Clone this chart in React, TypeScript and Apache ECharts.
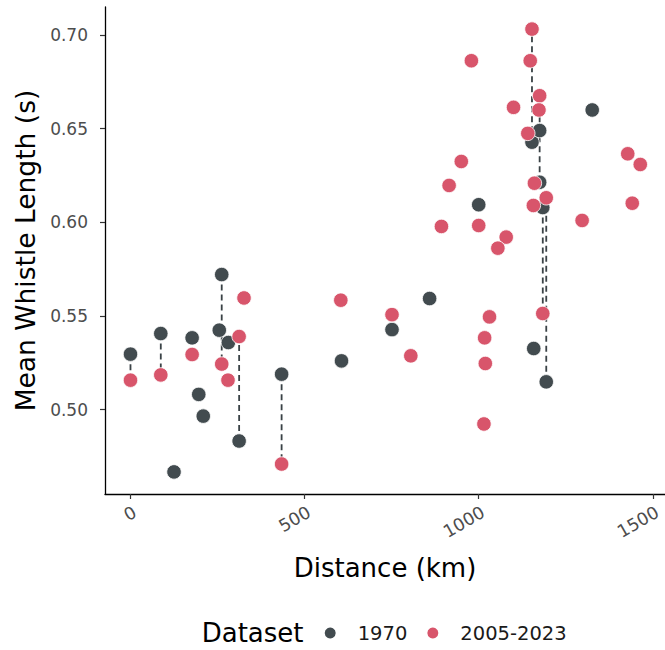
import React, { useEffect, useRef } from "react";
import * as echarts from "echarts";

// Sites sampled in both periods (joined by a dashed line)
const pairDistance = [0, 87, 177, 262, 312, 434, 751, 1153, 1175, 1184, 1194];
const pair1970 = [0.5296, 0.5406, 0.5383, 0.5721, 0.4832, 0.5189, 0.5427, 0.6428, 0.6214, 0.6079, 0.5148];
const pair2005 = [0.5157, 0.5185, 0.5294, 0.5243, 0.539, 0.4709, 0.5507, 0.7032, 0.6676, 0.5513, 0.6131];

// Other 1970 sites
const other1970Distance = [255, 281, 196, 209, 125, 606, 859, 1000, 1326, 1175, 1158];
const other1970Length = [0.5424, 0.5358, 0.5081, 0.4965, 0.4667, 0.526, 0.5593, 0.6094, 0.66, 0.649, 0.5326];

// Other 2005-2023 sites
const other2005Distance = [326, 280, 604, 805, 950, 915, 893, 1000, 1079, 1055, 1031, 1017, 1019, 1015, 979, 1148, 1100, 1173, 1141, 1428, 1464, 1160, 1157, 1441, 1297];
const other2005Length = [0.5596, 0.5157, 0.5584, 0.5287, 0.6325, 0.6197, 0.5978, 0.5983, 0.5921, 0.5862, 0.5495, 0.5383, 0.5246, 0.4923, 0.6863, 0.6863, 0.6614, 0.66, 0.6475, 0.6366, 0.6309, 0.6209, 0.609, 0.6102, 0.601];

const xTicks = [0, 500, 1000, 1500];
const yTicks = [0.5, 0.55, 0.6, 0.65, 0.7];
const datasets = ["1970", "2005-2023"];

export default function App() {
  const ref = useRef<HTMLDivElement>(null);
  useEffect(() => {
    const chart = echarts.init(ref.current!, null, { renderer: "svg" });
    const font = "DejaVu Sans";
    const dark = "#424b4f";
    const red = "#d8556b";

    const lineSeries = pairDistance.map((d, i) => ({
      type: "line",
      silent: true,
      symbol: "none",
      z: 1,
      data: [
        [d, pair1970[i]],
        [d, pair2005[i]],
      ],
      lineStyle: { color: "#3a4246", width: 1.8, type: [6, 4] },
    }));

    const data1970 = [
      ...pairDistance.map((d, i) => [d, pair1970[i]]),
      ...other1970Distance.map((d, i) => [d, other1970Length[i]]),
    ];
    const data2005 = [
      ...pairDistance.map((d, i) => [d, pair2005[i]]),
      ...other2005Distance.map((d, i) => [d, other2005Length[i]]),
    ];

    chart.setOption({
      animation: false,
      backgroundColor: "#ffffff",
      textStyle: { fontFamily: font },
      grid: { left: 105, right: 0, top: 7, bottom: 156, containLabel: false },
      xAxis: {
        type: "value",
        min: -73.2,
        max: 1535,
        name: "Distance (km)",
        nameLocation: "middle",
        nameGap: 61,
        nameTextStyle: { fontSize: 26, color: "#000", fontFamily: font },
        axisLine: { show: true, onZero: false, lineStyle: { color: "#000", width: 1.3 } },
        axisTick: { show: true, length: 5, customValues: xTicks, lineStyle: { color: "#333", width: 1.2 } },
        axisLabel: {
          customValues: xTicks,
          rotate: 30,
          align: "right",
          verticalAlign: "top",
          margin: 9,
          fontSize: 17.5,
          color: "#4d4d4d",
          fontFamily: font,
          formatter: (v: number) => String(v),
        },
        splitLine: { show: false },
      },
      yAxis: {
        type: "value",
        min: 0.4549,
        max: 0.715,
        name: "Mean Whistle Length (s)",
        nameLocation: "middle",
        nameGap: 59,
        nameTextStyle: { fontSize: 26.5, color: "#000", fontFamily: font },
        axisLine: { show: true, onZero: false, lineStyle: { color: "#000", width: 1.3 } },
        axisTick: { show: true, length: 5, customValues: yTicks, lineStyle: { color: "#333", width: 1.2 } },
        axisLabel: {
          customValues: yTicks,
          margin: 17,
          fontSize: 17,
          color: "#4d4d4d",
          fontFamily: font,
          formatter: (v: number) => v.toFixed(2),
        },
        splitLine: { show: false },
      },
      legend: {
        data: datasets.map((n) => ({ name: n, icon: "circle" })),
        left: 322.7,
        top: 623,
        padding: 0,
        itemWidth: 13,
        itemHeight: 13,
        itemGap: 18,
        textStyle: { fontFamily: font, fontSize: 19.5, color: "#1a1a1a", padding: [0, 0, 0, 16] },
      },
      graphic: [
        {
          type: "text",
          x: 201.7,
          y: 633,
          style: {
            text: "Dataset",
            fontSize: 26,
            fontFamily: font,
            fill: "#000",
            align: "left",
            verticalAlign: "middle",
          },
        },
      ],
      series: [
        ...lineSeries,
        {
          name: datasets[0],
          type: "scatter",
          z: 2,
          symbolSize: 14.5,
          itemStyle: { color: dark, borderColor: "#fff", borderWidth: 0.8, opacity: 1 },
          data: data1970,
        },
        {
          name: datasets[1],
          type: "scatter",
          z: 3,
          symbolSize: 14.5,
          itemStyle: { color: red, borderColor: "#fff", borderWidth: 0.8, opacity: 1 },
          data: data2005,
        },
      ],
    } as any);
    return () => chart.dispose();
  }, []);
  return (
    <div
      ref={ref}
      style={{ position: "absolute", left: 0, top: 0, width: 665, height: 650, background: "#fff" }}
    />
  );
}
